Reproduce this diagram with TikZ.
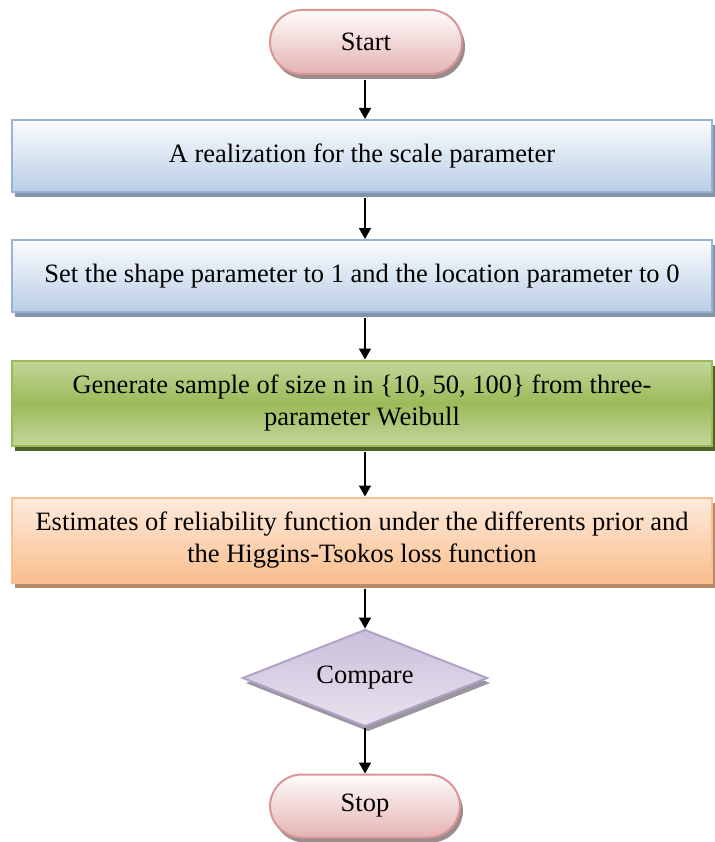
\documentclass[tikz,border=0pt]{standalone}
\usepackage{fontspec}
\setmainfont{Liberation Serif}
\usetikzlibrary{shapes.geometric,shadows,arrows.meta}

\definecolor{termtop}{HTML}{FFFCFC}
\definecolor{termbot}{HTML}{E4B3B2}
\definecolor{termline}{HTML}{D99694}
\definecolor{termshadow}{HTML}{9A8C8C}
\definecolor{bluetop}{HTML}{FBFCFE}
\definecolor{bluebot}{HTML}{B9CDE5}
\definecolor{blueline}{HTML}{95B3D7}
\definecolor{blueshadow}{HTML}{8593A8}
\definecolor{greenlt}{HTML}{C3D69B}
\definecolor{greendk}{HTML}{9BBB59}
\definecolor{greenshadow}{HTML}{4F6228}
\definecolor{orangetop}{HTML}{FDEBDD}
\definecolor{orangebot}{HTML}{F9BE8D}
\definecolor{orangeline}{HTML}{FAC090}
\definecolor{orangeshadow}{HTML}{B88A6A}
\definecolor{lilactop}{HTML}{CABFDA}
\definecolor{lilacbot}{HTML}{E8E3EF}
\definecolor{lilacline}{HTML}{B3A2C7}
\definecolor{lilacshadow}{HTML}{9A96A0}

\tikzset{
  every node/.style={font=\fontsize{26.5}{32}\selectfont, text=black},
  shade/.style={general shadow={fill=#1, shadow xshift=3pt, shadow yshift=-5pt}},
  terminal/.style={rectangle, rounded corners=32pt, minimum width=192pt,
    minimum height=64pt, draw=termline, line width=2pt,
    top color=termtop, bottom color=termbot, shade=termshadow},
  stepbox/.style={rectangle, minimum width=700pt, draw=blueline, line width=2pt,
    top color=bluetop, bottom color=bluebot, minimum height=72pt, shade=blueshadow},
  genbox/.style={rectangle, minimum width=700pt, minimum height=85pt, align=center,
    draw=greendk, line width=2pt, top color=greenlt, bottom color=greenlt,
    middle color=greendk, shade=greenshadow},
  estbox/.style={rectangle, minimum width=700pt, minimum height=85pt, align=center,
    draw=orangeline, line width=2pt, top color=orangetop, bottom color=orangebot,
    shade=orangeshadow},
  decision/.style={diamond, aspect=2.5, minimum width=245pt, minimum height=97pt,
    inner sep=0pt, draw=lilacline, line width=2pt, top color=lilactop,
    bottom color=lilacbot, shade=lilacshadow},
  flow/.style={-{Triangle[length=11pt,width=12pt]}, line width=1.6pt, black}
}

\begin{document}
\begin{tikzpicture}[x=1pt,y=1pt]
  \useasboundingbox (0,0) rectangle (714,-842);

  \node[terminal] (start) at (366,-42) {Start};
  \node[stepbox] (real) at (362,-156) {A realization for the scale parameter};
  \node[stepbox] (set) at (362,-276) {Set the shape parameter to 1 and the location parameter to 0};
  \node[genbox] (gen) at (362,-403) {Generate sample of size n in \{10, 50, 100\} from three-\\parameter Weibull};
  \node[estbox] (est) at (362,-540) {Estimates of reliability function under the differents prior and\\the Higgins-Tsokos loss function};
  \node[decision] (cmp) at (365,-678) {Compare};
  \node[terminal, minimum width=190pt, minimum height=63pt] (stop) at (365,-806) {Stop};

  \draw[flow] (start.south -| cmp.north) ++(0,-5) coordinate (s0) -- (s0 |- real.north);
  \draw[flow] (real.south -| cmp.north) ++(0,-5) coordinate (s1) -- (s1 |- set.north);
  \draw[flow] (set.south -| cmp.north) ++(0,-5) coordinate (s2) -- (s2 |- gen.north);
  \draw[flow] (gen.south -| cmp.north) ++(0,-5) coordinate (s3) -- (s3 |- est.north);
  \draw[flow] (est.south -| cmp.north) ++(0,-5) coordinate (s4) -- (cmp.north);
  \draw[flow] (cmp.south) -- (stop.north);
\end{tikzpicture}
\end{document}
